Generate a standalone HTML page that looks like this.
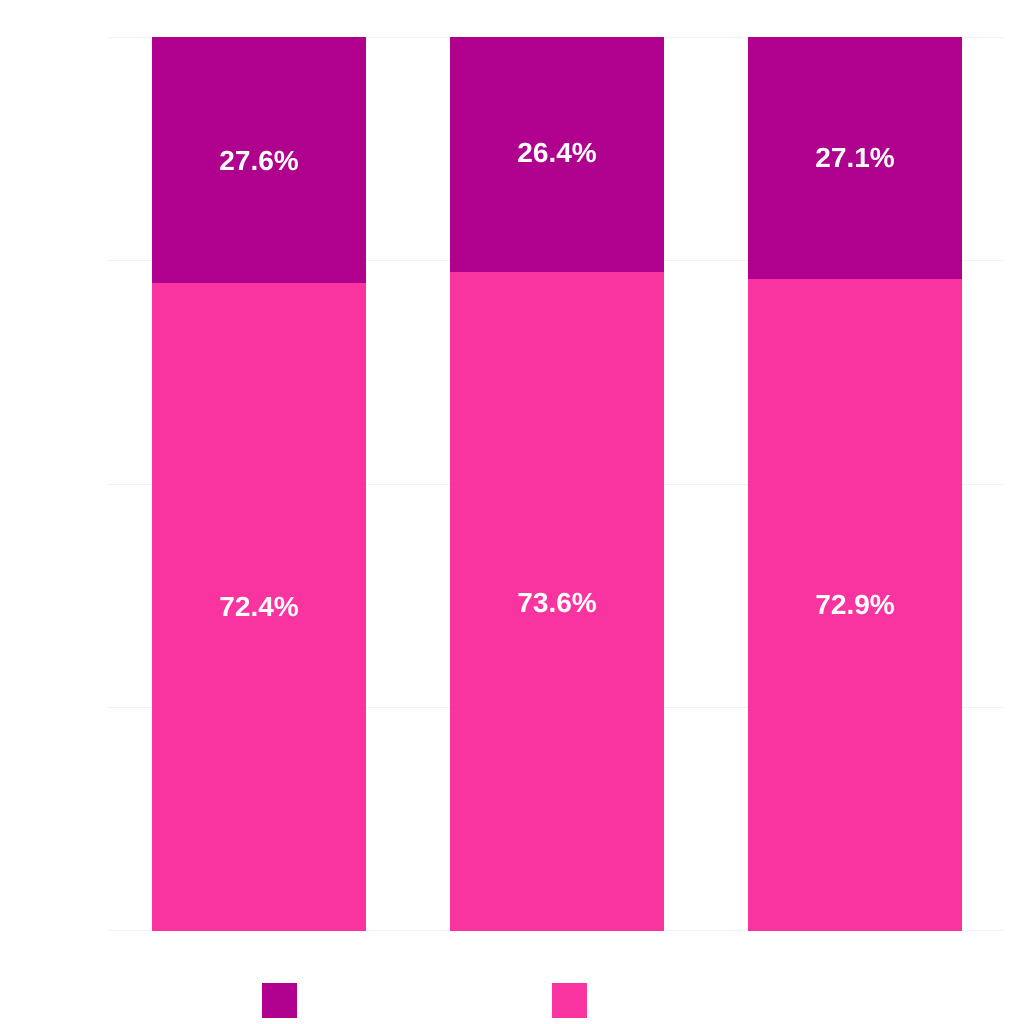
<!DOCTYPE html>
<html><head><meta charset="utf-8"><style>
html,body{margin:0;padding:0;background:#fff;}
body{width:1024px;height:1024px;position:relative;overflow:hidden;font-family:"Liberation Sans",sans-serif;}
.g{position:absolute;left:108px;width:895px;height:1px;background:#f2f2f2;}
.b{position:absolute;width:214px;}
.d{background:#B0008E;}
.p{background:#F933A0;}
.l{position:absolute;width:214px;text-align:center;color:#fff;font-weight:bold;font-size:28px;line-height:30px;}
.sq{position:absolute;top:983px;width:35px;height:35px;}
</style></head><body>
<div class="g" style="top:37px"></div>
<div class="g" style="top:260px"></div>
<div class="g" style="top:484px"></div>
<div class="g" style="top:707px"></div>
<div class="g" style="top:930px"></div>

<div class="b d" style="left:152px;top:37px;height:246px"></div>
<div class="b p" style="left:152px;top:283px;height:648px"></div>
<div class="b d" style="left:450px;top:37px;height:235px"></div>
<div class="b p" style="left:450px;top:272px;height:659px"></div>
<div class="b d" style="left:748px;top:37px;height:242px"></div>
<div class="b p" style="left:748px;top:279px;height:652px"></div>

<div class="l" style="left:152px;top:146px">27.6%</div>
<div class="l" style="left:152px;top:592px">72.4%</div>
<div class="l" style="left:450px;top:138px">26.4%</div>
<div class="l" style="left:450px;top:588px">73.6%</div>
<div class="l" style="left:748px;top:143px">27.1%</div>
<div class="l" style="left:748px;top:590px">72.9%</div>

<div class="sq d" style="left:262px"></div>
<div class="sq p" style="left:552px"></div>
</body></html>
